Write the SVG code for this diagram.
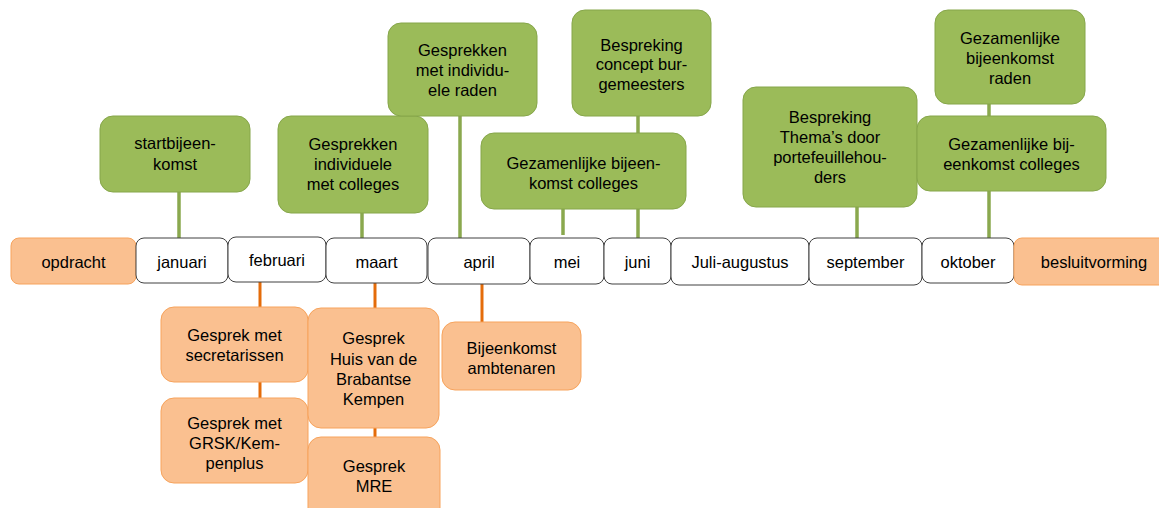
<svg xmlns="http://www.w3.org/2000/svg" width="1159" height="508" viewBox="0 0 1159 508">
<style>
  text { font-family: "Liberation Sans", Arial, sans-serif; font-size: 16.5px; fill: #000; text-anchor: middle; }
  .green { fill: #9BBB59; stroke: #86A64A; stroke-width: 1; }
  .orange { fill: #FAC090; stroke: #F7A35C; stroke-width: 1; }
  .month { fill: #FFFFFF; stroke: #404040; stroke-width: 1; }
  .gl { stroke: #8AA84E; stroke-width: 3.5; fill: none; }
  .ol { stroke: #E46C0A; stroke-width: 3; fill: none; }
</style>
<rect width="1159" height="508" fill="#FFFFFF"/>
<g id="connectors">
  <line class="gl" x1="179" y1="192" x2="179" y2="238"/>
  <line class="gl" x1="362" y1="213" x2="362" y2="238"/>
  <line class="gl" x1="460" y1="116" x2="460" y2="238"/>
  <line class="gl" x1="638" y1="116" x2="638" y2="133"/>
  <line class="gl" x1="563" y1="209" x2="563" y2="235"/>
  <line class="gl" x1="638" y1="209" x2="638" y2="238"/>
  <line class="gl" x1="857" y1="207" x2="857" y2="238"/>
  <line class="gl" x1="989" y1="104" x2="989" y2="116"/>
  <line class="gl" x1="989" y1="191" x2="989" y2="238"/>
  <line class="ol" x1="260" y1="282" x2="260" y2="307"/>
  <line class="ol" x1="260" y1="382" x2="260" y2="398"/>
  <line class="ol" x1="375" y1="283" x2="375" y2="308"/>
  <line class="ol" x1="375" y1="428" x2="375" y2="437"/>
  <line class="ol" x1="482" y1="284" x2="482" y2="322"/>
</g>
<g id="timeline">
  <g id="opdracht"><rect class="orange" x="11" y="238" width="125" height="46" rx="8"/><text x="73.5" y="268">opdracht</text></g>
  <g id="januari"><rect class="month" x="136" y="238" width="92" height="45" rx="8"/><text x="182" y="268">januari</text></g>
  <g id="februari"><rect class="month" x="228" y="237" width="98" height="45" rx="8"/><text x="277" y="266">februari</text></g>
  <g id="maart"><rect class="month" x="326" y="238" width="101" height="45" rx="8"/><text x="376.5" y="268">maart</text></g>
  <g id="april"><rect class="month" x="428" y="238" width="102" height="46" rx="8"/><text x="479" y="268">april</text></g>
  <g id="mei"><rect class="month" x="530" y="238" width="74" height="46" rx="8"/><text x="567" y="268">mei</text></g>
  <g id="juni"><rect class="month" x="604" y="238" width="67" height="46" rx="8"/><text x="637.5" y="268">juni</text></g>
  <g id="juli-augustus"><rect class="month" x="671" y="238" width="138" height="47" rx="8"/><text x="740" y="268">Juli-augustus</text></g>
  <g id="september"><rect class="month" x="809" y="238" width="113" height="47" rx="8"/><text x="865.5" y="268">september</text></g>
  <g id="oktober"><rect class="month" x="922" y="238" width="92" height="45" rx="8"/><text x="968" y="268">oktober</text></g>
  <g id="besluitvorming"><rect class="orange" x="1014" y="238" width="160" height="47" rx="8"/><text x="1094" y="268">besluitvorming</text></g>
</g>
<g id="startbijeenkomst"><rect class="green" x="100" y="116" width="150" height="76" rx="13"/><text x="175" y="149">startbijeen-</text><text x="175" y="170">komst</text></g>
<g id="gesprekken-colleges"><rect class="green" x="278" y="116" width="150" height="97" rx="13"/><text x="353" y="150">Gesprekken</text><text x="353" y="170">individuele</text><text x="353" y="190">met colleges</text></g>
<g id="gesprekken-raden"><rect class="green" x="388" y="23" width="149" height="93" rx="13"/><text x="462.5" y="56">Gesprekken</text><text x="462.5" y="76">met individu-</text><text x="462.5" y="96">ele raden</text></g>
<g id="bespreking-concept"><rect class="green" x="572" y="10" width="139" height="106" rx="13"/><text x="641.5" y="51">Bespreking</text><text x="641.5" y="70">concept bur-</text><text x="641.5" y="90">gemeesters</text></g>
<g id="gezamenlijk-colleges-mei"><rect class="green" x="481" y="133" width="205" height="76" rx="13"/><text x="583.5" y="169">Gezamenlijke bijeen-</text><text x="583.5" y="189">komst colleges</text></g>
<g id="bespreking-themas"><rect class="green" x="743" y="87" width="174" height="120" rx="13"/><text x="830" y="123">Bespreking</text><text x="830" y="143">Thema’s door</text><text x="830" y="163">portefeuillehou-</text><text x="830" y="183">ders</text></g>
<g id="gezamenlijk-raden"><rect class="green" x="935" y="10" width="150" height="94" rx="13"/><text x="1010" y="44">Gezamenlijke</text><text x="1010" y="64">bijeenkomst</text><text x="1010" y="84">raden</text></g>
<g id="gezamenlijk-colleges-okt"><rect class="green" x="917" y="116" width="189" height="75" rx="13"/><text x="1011.5" y="150">Gezamenlijke bij-</text><text x="1011.5" y="170">eenkomst colleges</text></g>
<g id="gesprek-secretarissen"><rect class="orange" x="161" y="307" width="147" height="75" rx="13"/><text x="234.5" y="341">Gesprek met</text><text x="234.5" y="361">secretarissen</text></g>
<g id="gesprek-grsk"><rect class="orange" x="161" y="398" width="147" height="85" rx="13"/><text x="234.5" y="429">Gesprek met</text><text x="234.5" y="449">GRSK/Kem-</text><text x="234.5" y="469">penplus</text></g>
<g id="gesprek-huis"><rect class="orange" x="308" y="308" width="131" height="120" rx="13"/><text x="373.5" y="344">Gesprek</text><text x="373.5" y="365">Huis van de</text><text x="373.5" y="385">Brabantse</text><text x="373.5" y="405">Kempen</text></g>
<g id="gesprek-mre"><rect class="orange" x="308" y="437" width="132" height="85" rx="13"/><text x="374" y="472">Gesprek</text><text x="374" y="492">MRE</text></g>
<g id="bijeenkomst-ambtenaren"><rect class="orange" x="442" y="322" width="139" height="68" rx="13"/><text x="511.5" y="354">Bijeenkomst</text><text x="511.5" y="374">ambtenaren</text></g>
</svg>
